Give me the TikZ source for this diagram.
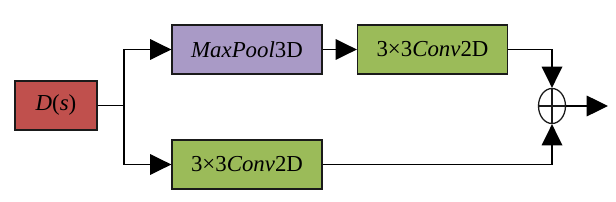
\documentclass[tikz,border=0pt]{standalone}
\usepackage{fontspec}
\setmainfont{Liberation Serif}
\usetikzlibrary{arrows.meta,positioning,shapes.geometric}
\definecolor{inp}{HTML}{C0504D}
\definecolor{pool}{HTML}{A99AC6}
\definecolor{conv}{HTML}{9BBB59}
\definecolor{edge}{HTML}{1A1A1A}

\begin{document}
\begin{tikzpicture}[
    blk/.style={rectangle,draw=edge,minimum height=1.47cm,font=\fontsize{19.5}{22}\selectfont,line width=1.1pt,minimum width=4.5cm,inner sep=0pt},
    arr/.style={-{Triangle[length=0.64cm,width=0.62cm]},line width=1.1pt},
    sumnode/.style={ellipse,draw=edge,line width=1.1pt,minimum width=0.81cm,minimum height=1.05cm,inner sep=0pt}
]
\useasboundingbox (0,0) rectangle (18.48,6.03);
\node[blk,fill=inp,minimum width=2.46cm] (ds) at (1.68,2.865) {\textit{D}(\textit{s})};
\node[blk,fill=pool] (maxpool) at (7.41,4.545) {\textit{MaxPool}3D};
\node[blk,fill=conv] (convb) at (7.41,1.095) {3×3\textit{Conv}2D};
\node[blk,fill=conv] (convt) at (12.975,4.545) {3×3\textit{Conv}2D};
\node[sumnode] (add) at (16.56,2.85) {};
\draw[line width=1.1pt,edge] (add.north) -- (add.south);
\draw[line width=1.1pt,edge] (add.west) -- (add.east);

\coordinate (split) at (3.72,2.865);
\coordinate (out) at (18.24,2.85);

\draw[line width=1.1pt] (ds) -- (split);
\draw[arr] (split) |- (maxpool);
\draw[arr] (split) |- (convb);
\draw[arr] (maxpool) -- (convt);
\draw[arr] (convt) -| (add.north);
\draw[arr] (convb) -| (add.south);
\draw[arr] (add) -- (out);
\end{tikzpicture}
\end{document}
